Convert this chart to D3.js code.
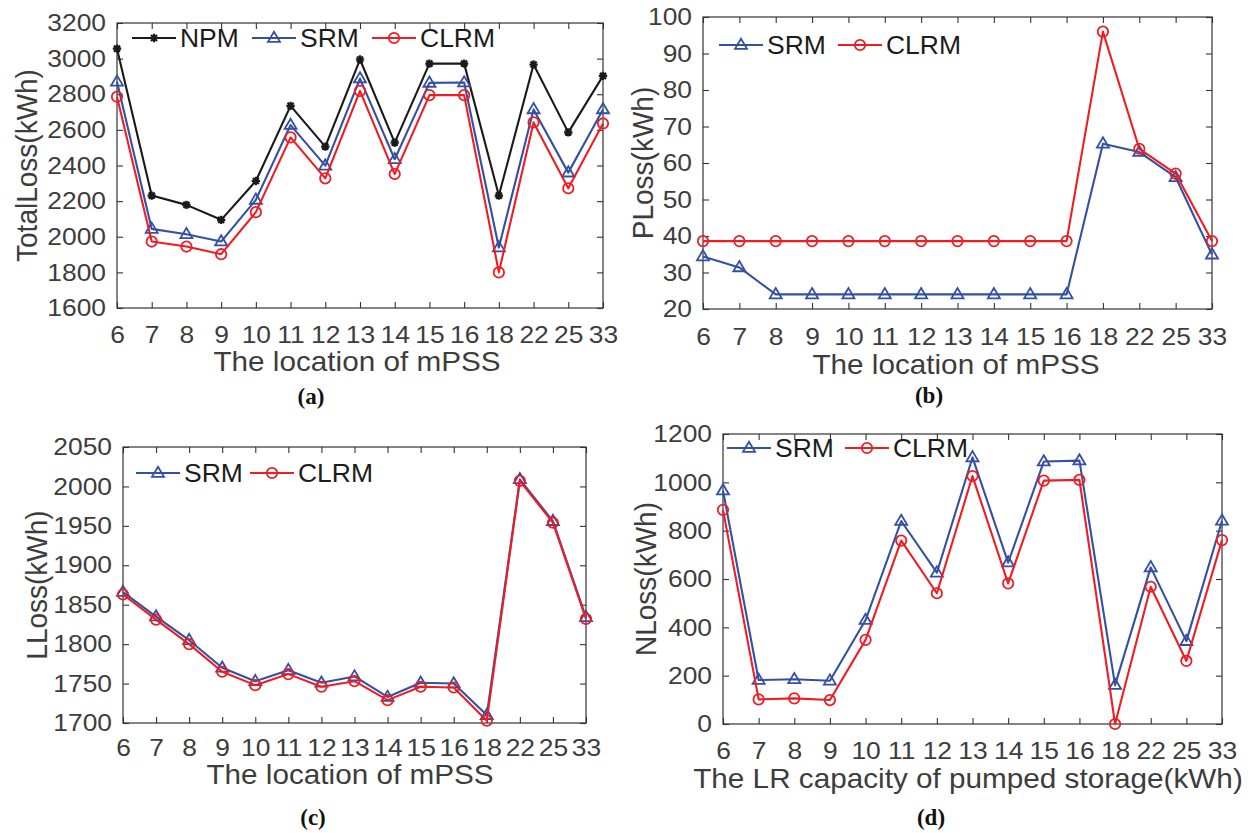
<!DOCTYPE html>
<html>
<head>
<meta charset="utf-8">
<script src="https://cdn.jsdelivr.net/npm/d3@7"></script>
<style>
  html, body { margin: 0; padding: 0; background: #fff; }
  svg { display: block; }
</style>
</head>
<body>
<svg id="chart" width="1252" height="833"></svg>
<script>
// ---------------- DATA ----------------
const categories = ["6","7","8","9","10","11","12","13","14","15","16","18","22","25","33"];

// (a) TotalLoss (kWh)
const totalNPM  = [3056, 2231, 2179, 2095, 2313, 2735, 2506, 2995, 2528, 2972, 2972, 2231, 2967, 2586, 2903];
const totalSRM  = [2870, 2044, 2014, 1973, 2207, 2627, 2399, 2888, 2435, 2864, 2866, 1940, 2715, 2360, 2715];
const totalCLRM = [2786, 1973, 1945, 1902, 2138, 2558, 2328, 2819, 2352, 2795, 2795, 1800, 2642, 2272, 2636];

// (b) PLoss (kWh)
const pSRM  = [34.4, 31.4, 24, 24, 24, 24, 24, 24, 24, 24, 24, 65.3, 63.0, 56.1, 34.9];
const pCLRM = [38.6, 38.6, 38.6, 38.6, 38.6, 38.6, 38.6, 38.6, 38.6, 38.6, 38.6, 96.0, 63.9, 57.1, 38.6];

// (c) LLoss (kWh)
const lSRM  = [1866, 1835, 1805, 1770, 1753, 1767, 1751, 1759, 1733, 1751, 1750, 1710, 2009, 1956, 1834];
const lCLRM = [1863, 1831, 1800, 1765, 1748, 1762, 1746, 1753, 1729, 1746, 1745, 1703, 2007, 1954, 1832];

// (d) NLoss (kWh)
const nSRM  = [966, 182, 185, 179, 430, 840, 626, 1103, 668, 1086, 1090, 161, 648, 343, 841];
const nCLRM = [886, 102, 106,  99, 348, 759, 541, 1026, 582, 1007, 1010,   0, 568, 261, 761];

// tick labels
const ticksA = [1600, 1800, 2000, 2200, 2400, 2600, 2800, 3000, 3200];
const ticksB = [20, 30, 40, 50, 60, 70, 80, 90, 100];
const ticksC = [1700, 1750, 1800, 1850, 1900, 1950, 2000, 2050];
const ticksD = [0, 200, 400, 600, 800, 1000, 1200];

const seriesNames = { npm: "NPM", srm: "SRM", clrm: "CLRM" };

// ---------------- STYLE ----------------
const COLORS = { npm: "#1a1a1a", srm: "#3350a3", clrm: "#ee1d24" };
const FONT = "'Liberation Sans', Arial, Helvetica, sans-serif";
const TEXT_COL = "#3d3d3d";
const AXIS_COL = "#333333";

const svg = d3.select("#chart");

function stretchX(sel, sx) {
  sel.each(function () {
    const t = d3.select(this);
    const x = +t.attr("x") || 0;
    t.attr("transform", `translate(${x},0) scale(${sx},1) translate(${-x},0)`);
  });
}

function starPath(s) {
  const r = s, d = s * 0.72;
  return `M0,${-r}L0,${r}M${-r},0L${r},0M${-d},${-d}L${d},${d}M${-d},${d}L${d},${-d}`;
}
function trianglePath(w) {
  const h = w * 0.85;
  return `M0,${-h * 0.62}L${w / 2},${h * 0.38}L${-w / 2},${h * 0.38}Z`;
}

function drawMarker(g, type, x, y) {
  const c = COLORS[type];
  if (type === "npm") {
    g.append("path").attr("d", starPath(4.2)).attr("transform", `translate(${x},${y})`)
      .attr("stroke", c).attr("stroke-width", 2.2).attr("fill", "none");
  } else if (type === "srm") {
    g.append("path").attr("d", trianglePath(12)).attr("transform", `translate(${x},${y})`)
      .attr("stroke", c).attr("stroke-width", 1.8).attr("fill", "none");
  } else {
    g.append("circle").attr("cx", x).attr("cy", y).attr("r", 5.2)
      .attr("stroke", c).attr("stroke-width", 1.8).attr("fill", "none");
  }
}

function drawPanel(cfg) {
  const g = svg.append("g");
  const x = d3.scalePoint().domain(categories).range([cfg.left, cfg.right]).padding(0);
  const y = d3.scaleLinear().domain(cfg.yDomain).range([cfg.bottom, cfg.top]);

  const gb = g.append("g").attr("transform", `translate(0,${cfg.bottom})`)
    .call(d3.axisBottom(x).tickSizeInner(-6).tickSizeOuter(0).tickPadding(cfg.xPad));
  const gl = g.append("g").attr("transform", `translate(${cfg.left},0)`)
    .call(d3.axisLeft(y).tickValues(cfg.yTicks).tickFormat(d3.format("d"))
      .tickSizeInner(-6).tickSizeOuter(0).tickPadding(11));
  const gt = g.append("g").attr("transform", `translate(0,${cfg.top})`)
    .call(d3.axisTop(x).tickSizeInner(-6).tickSizeOuter(0).tickFormat(""));
  const gr = g.append("g").attr("transform", `translate(${cfg.right},0)`)
    .call(d3.axisRight(y).tickValues(cfg.yTicks).tickSizeInner(-6).tickSizeOuter(0).tickFormat(""));

  [gb, gl, gt, gr].forEach(a => {
    a.select(".domain").remove();
    a.selectAll(".tick line").attr("stroke", AXIS_COL).attr("stroke-width", 1.1);
    a.selectAll(".tick text").attr("fill", TEXT_COL).style("font-family", FONT).style("font-size", "24px");
  });
  stretchX(gb.selectAll(".tick text"), 1.1);
  stretchX(gl.selectAll(".tick text"), 1.1);

  g.append("rect").attr("x", cfg.left).attr("y", cfg.top)
    .attr("width", cfg.right - cfg.left).attr("height", cfg.bottom - cfg.top)
    .attr("fill", "none").attr("stroke", AXIS_COL).attr("stroke-width", 1.2);

  cfg.series.forEach(s => {
    const line = d3.line().x((d, i) => x(categories[i])).y(d => y(d));
    g.append("path").datum(s.values).attr("d", line)
      .attr("fill", "none").attr("stroke", COLORS[s.type]).attr("stroke-width", 2.1)
      .attr("stroke-linejoin", "round");
    s.values.forEach((v, i) => drawMarker(g, s.type, x(categories[i]), y(v)));
  });

  cfg.series.forEach((s, k) => {
    const lx = cfg.legend.x[k], ly = cfg.legend.y;
    g.append("line").attr("x1", lx).attr("x2", lx + 44).attr("y1", ly).attr("y2", ly)
      .attr("stroke", COLORS[s.type]).attr("stroke-width", 2.1);
    drawMarker(g, s.type, lx + 22, ly);
    const t = g.append("text").attr("x", lx + 48).attr("y", ly + 9)
      .attr("fill", "#1c1c1c").style("font-family", FONT).style("font-size", "25px")
      .text(seriesNames[s.type]);
    stretchX(t, 1.06);
  });

  const xt = g.append("text").attr("x", cfg.xTitleX).attr("y", cfg.xTitleY)
    .attr("text-anchor", "middle").attr("fill", TEXT_COL)
    .style("font-family", FONT).style("font-size", "27px").text(cfg.xTitle);
  stretchX(xt, 1.1);

  const yc = (cfg.top + cfg.bottom) / 2;
  g.append("g").attr("transform", `translate(${cfg.yTitleX},${yc}) scale(1.06,1)`)
    .append("text").attr("transform", "rotate(-90)").attr("x", 0).attr("y", 0)
    .attr("dy", "0.36em").attr("text-anchor", "middle").attr("fill", TEXT_COL)
    .style("font-family", FONT).style("font-size", "28px").text(cfg.yTitle);

  g.append("text").attr("x", cfg.labelX).attr("y", cfg.labelY).attr("text-anchor", "middle")
    .attr("fill", "#111").style("font-family", "'Liberation Serif', 'Times New Roman', serif")
    .style("font-weight", "bold").style("font-size", "23px").text(cfg.label);
}

drawPanel({
  left: 117, right: 603, top: 23, bottom: 308,
  yDomain: [1600, 3200], yTicks: ticksA, xPad: 18,
  series: [{ type: "npm", values: totalNPM }, { type: "srm", values: totalSRM }, { type: "clrm", values: totalCLRM }],
  legend: { x: [132, 252, 372], y: 38 },
  xTitle: "The location of mPSS", xTitleX: 357, xTitleY: 371,
  yTitle: "TotalLoss(kWh)", yTitleX: 26,
  label: "(a)", labelX: 311, labelY: 404
});

drawPanel({
  left: 703, right: 1212, top: 17, bottom: 309,
  yDomain: [20, 100], yTicks: ticksB, xPad: 19,
  series: [{ type: "srm", values: pSRM }, { type: "clrm", values: pCLRM }],
  legend: { x: [719, 838], y: 45 },
  xTitle: "The location of mPSS", xTitleX: 956, xTitleY: 374,
  yTitle: "PLoss(kWh)", yTitleX: 642,
  label: "(b)", labelX: 929, labelY: 403
});

drawPanel({
  left: 123, right: 586, top: 447, bottom: 723,
  yDomain: [1700, 2050], yTicks: ticksC, xPad: 16,
  series: [{ type: "srm", values: lSRM }, { type: "clrm", values: lCLRM }],
  legend: { x: [136, 250], y: 473 },
  xTitle: "The location of mPSS", xTitleX: 350, xTitleY: 784,
  yTitle: "LLoss(kWh)", yTitleX: 36,
  label: "(c)", labelX: 313, labelY: 825
});

drawPanel({
  left: 723, right: 1222, top: 434, bottom: 724,
  yDomain: [0, 1200], yTicks: ticksD, xPad: 18,
  series: [{ type: "srm", values: nSRM }, { type: "clrm", values: nCLRM }],
  legend: { x: [727, 845], y: 448 },
  xTitle: "The LR capacity of pumped storage(kWh)", xTitleX: 968, xTitleY: 788,
  yTitle: "NLoss(kWh)", yTitleX: 645,
  label: "(d)", labelX: 931, labelY: 825
});
</script>
</body>
</html>
